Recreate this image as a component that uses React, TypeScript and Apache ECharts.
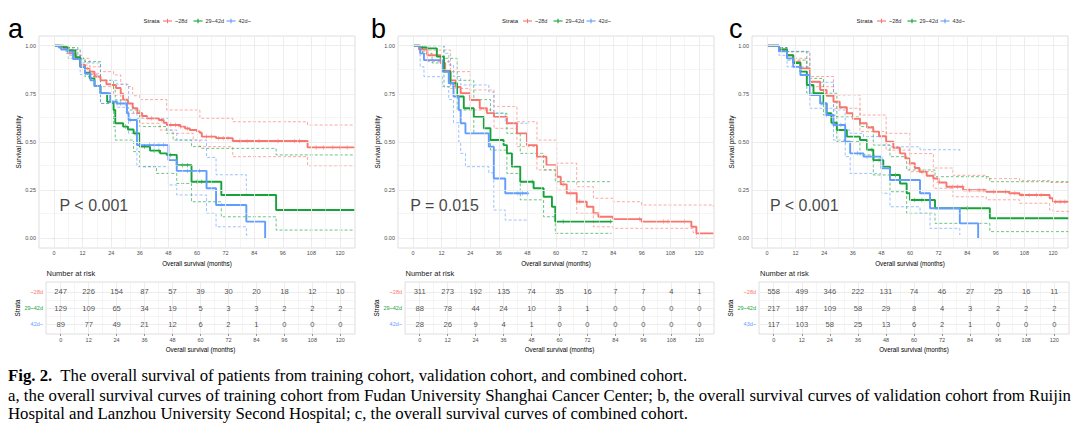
import React, { useEffect, useRef } from "react";
import * as echarts from "echarts";

const TIME_TICKS = [0, 12, 24, 36, 48, 60, 72, 84, 96, 108, 120];
const TIME_MINOR = [6, 18, 30, 42, 54, 66, 78, 90, 102, 114];
const SURV_TICKS = [0, 0.25, 0.5, 0.75, 1];
const SURV_MINOR = [0.125, 0.375, 0.625, 0.875];
const STRATA_AB = ["~28d", "29~42d", "42d~"];
const STRATA_C = ["~28d", "29~42d", "43d~"];
const COLORS = ["#F8766D", "#17A23A", "#619CFF"];
const P_LABELS = ["P < 0.001", "P = 0.015", "P < 0.001"];
const P_POS = [[2.1, 0.168], [-1.4, 0.168], [1, 0.168]];
const LETTERS = ["a", "b", "c"];

// ---------- panel a : training cohort ----------
const A_E28 = [[0,1],[3,0.99],[6,0.96],[9,0.93],[11,0.9],[13,0.88],[15,0.865],[17,0.84],[19.5,0.82],[22,0.8],[24,0.796],[26,0.78],[28,0.75],[29,0.72],[31,0.7],[33,0.675],[35,0.65],[37,0.635],[39,0.623],[44,0.614],[46,0.6],[47.3,0.588],[53,0.58],[55,0.57],[57,0.562],[60,0.555],[61.2,0.548],[62,0.528],[68,0.52],[75,0.505],[106.4,0.472],[126,0.472]];
const A_U28 = [[0,1],[5,0.99],[8,0.977],[11,0.934],[15,0.89],[19.5,0.865],[25,0.848],[28,0.8],[30.5,0.787],[33,0.74],[36,0.72],[47.3,0.666],[61.2,0.623],[75,0.605],[106.4,0.588],[126,0.588]];
const A_L28 = [[0,1],[5,0.98],[8,0.95],[12,0.9],[14,0.856],[19.5,0.787],[25,0.744],[28,0.7],[30.5,0.649],[36,0.597],[44.5,0.562],[50,0.545],[58.4,0.51],[61.2,0.476],[75,0.424],[106.4,0.377],[126,0.377]];
const A_E29 = [[0,1],[4,0.99],[6,0.975],[9,0.94],[11,0.89],[13,0.86],[15,0.83],[17,0.79],[19.5,0.753],[22.3,0.709],[25,0.666],[25.7,0.597],[29,0.58],[31,0.565],[33.4,0.545],[36,0.476],[40.3,0.455],[44.5,0.441],[47.3,0.433],[51.5,0.38],[57.7,0.294],[70.2,0.225],[93.2,0.147],[126,0.147]];
const A_U29 = [[0,1],[6,0.99],[10,0.93],[13,0.917],[19.5,0.82],[25,0.77],[25.7,0.718],[30.6,0.666],[36,0.58],[47.3,0.545],[50,0.51],[57.7,0.476],[62,0.467],[93.2,0.433],[126,0.433]];
const A_L29 = [[0,1],[5,0.96],[6,0.934],[13,0.839],[19.5,0.7],[25,0.58],[25.7,0.51],[33.4,0.45],[36,0.372],[43,0.337],[51.5,0.285],[57.7,0.19],[70.2,0.112],[93.2,0.043],[126,0.043]];
const A_E42 = [[0,1],[2,0.99],[3,0.98],[5.6,0.969],[8,0.93],[11,0.89],[13,0.855],[15.3,0.82],[17,0.79],[19.5,0.753],[23.6,0.709],[26.4,0.7],[30.6,0.649],[31.3,0.614],[34.8,0.484],[48,0.406],[51.5,0.35],[64,0.26],[68,0.173],[80.7,0.087],[88.6,0]];
const A_U42 = [[0,1],[3,1],[5,0.98],[11,0.91],[19.5,0.82],[26.4,0.8],[31.3,0.7],[33.4,0.649],[34.8,0.623],[48,0.562],[51.5,0.51],[64,0.42],[68,0.33],[80.7,0.22],[81.5,0.22]];
const A_L42 = [[0,1],[3,0.98],[6.5,0.95],[11,0.85],[19.5,0.7],[26.4,0.68],[31.3,0.545],[34.8,0.372],[48,0.277],[51.5,0.225],[64,0.13],[68,0.06],[80.7,0.017],[81.5,0.017]];
const A_C28 = [37,41,45,49,51,53,56,64,66,69,71,73,78,81,86,94,101,103,110,113,117,120,123];
const A_C29 = [30,34,38,42,44,49,54,56,60,62];
const A_C42 = [26,28,30,32,40,42,44,46,56,61];
const A_R28 = [247,226,154,87,57,39,30,20,18,12,10];
const A_R29 = [129,109,65,34,19,5,3,3,2,2,2];
const A_R42 = [89,77,49,21,12,6,2,1,0,0,0];

// ---------- panel b : validation cohort ----------
const B_E28 = [[0,1],[2.5,0.98],[6,0.95],[11.6,0.91],[13.5,0.87],[15.7,0.82],[18,0.785],[20,0.753],[24,0.718],[28,0.675],[31,0.65],[34,0.63],[39.4,0.597],[43.6,0.545],[47.8,0.484],[52,0.424],[56,0.38],[60.3,0.32],[62,0.28],[64.5,0.234],[68.7,0.19],[72.9,0.164],[75.7,0.13],[77.8,0.112],[84,0.1],[95.9,0.087],[116.8,0.06],[118.9,0.026],[126,0.026]];
const B_U28 = [[0,1],[4,0.99],[6,0.977],[15.7,0.865],[24,0.77],[34,0.684],[43.6,0.605],[52,0.51],[60.3,0.39],[68.7,0.268],[75.7,0.208],[84,0.19],[95.9,0.173],[126,0.165]];
const B_L28 = [[0,1],[3,0.97],[6,0.917],[15.7,0.778],[24,0.666],[34,0.571],[43.6,0.476],[52,0.355],[60.3,0.25],[68.7,0.13],[75.7,0.06],[84,0.052],[117.5,0.03],[118.9,0],[126,0]];
const B_E29 = [[0,1],[3,0.99],[6,0.986],[10,0.943],[13,0.865],[15.7,0.805],[18.5,0.736],[21.3,0.675],[25.5,0.63],[29.7,0.571],[32.5,0.51],[38,0.484],[39.4,0.441],[41.5,0.372],[45,0.294],[50.6,0.26],[54.8,0.216],[58.3,0.164],[59.7,0.087],[83.3,0.087]];
const B_U29 = [[0,1],[8,1],[13,0.934],[18.5,0.82],[25.5,0.72],[32.5,0.649],[39.4,0.545],[45,0.441],[54.8,0.355],[59.7,0.294],[83.3,0.294]];
const B_L29 = [[0,1],[4,0.96],[8,0.91],[13,0.787],[18.5,0.666],[25.5,0.545],[32.5,0.458],[39.4,0.337],[45,0.2],[54.8,0.112],[59.7,0.026],[83.3,0.026]];
const B_E42 = [[0,1],[3,0.96],[4.6,0.925],[12.3,0.865],[15,0.805],[17,0.736],[19.2,0.666],[20,0.597],[22,0.545],[31.8,0.476],[33.9,0.311],[38.7,0.234],[48.5,0.234]];
const B_U42 = [[0,1],[12.3,1],[13,0.96],[15,0.9],[17,0.84],[20,0.796],[31.8,0.76],[33.9,0.65],[38.7,0.597],[48.5,0.597]];
const B_L42 = [[0,1],[3,0.89],[4.6,0.839],[12.3,0.787],[15,0.72],[17,0.6],[19.2,0.5],[20,0.441],[22,0.372],[31.8,0.34],[33.9,0.147],[38.7,0.095],[48.5,0.095]];
const B_C28 = [63,66,70,95,105,107,114];
const B_C29 = [50,63,83];
const B_C42 = [44,46,48];
const B_R28 = [311,273,192,135,74,35,16,7,7,4,1];
const B_R29 = [88,78,44,24,10,3,1,0,0,0,0];
const B_R42 = [28,26,9,4,1,0,0,0,0,0,0];

// ---------- panel c : combined cohort ----------
const C_E28 = [[0,1],[3.5,1],[5,0.98],[8.4,0.95],[11,0.915],[14,0.882],[18,0.813],[22.3,0.77],[25,0.74],[27.9,0.709],[30.5,0.68],[33.5,0.649],[36,0.62],[39,0.597],[42,0.575],[44.6,0.554],[47,0.53],[50,0.502],[53,0.47],[55.8,0.441],[58,0.415],[60,0.39],[62,0.365],[64,0.346],[67,0.325],[69.8,0.311],[72,0.29],[75.3,0.268],[82.3,0.25],[92,0.242],[101.7,0.234],[106,0.225],[118.6,0.208],[120,0.19],[126.4,0.19]];
const C_U28 = [[0,1],[5,0.99],[8.4,0.967],[18,0.84],[27.9,0.744],[39,0.64],[50,0.545],[60,0.44],[69.8,0.365],[78,0.327],[92,0.31],[106,0.3],[118.6,0.29],[126.4,0.285]];
const C_L28 = [[0,1],[5,0.975],[8.4,0.934],[18,0.787],[27.9,0.675],[39,0.554],[50,0.458],[60,0.346],[69.8,0.26],[78,0.216],[92,0.2],[106,0.182],[118.6,0.147],[120,0.14],[126.4,0.13]];
const C_E29 = [[0,1],[3.5,1],[5,0.98],[8.4,0.95],[11,0.91],[14,0.865],[16.7,0.796],[19.5,0.753],[23.7,0.7],[25,0.649],[27,0.6],[29.3,0.562],[33.5,0.528],[39,0.51],[42,0.46],[44.6,0.406],[48.8,0.372],[51.6,0.329],[55.8,0.285],[58.6,0.234],[60,0.199],[70.5,0.156],[93.5,0.104],[126.4,0.104]];
const C_U29 = [[0,1],[5,0.99],[8.4,0.97],[16.7,0.83],[23.7,0.753],[29.3,0.63],[39,0.58],[44.6,0.484],[51.6,0.424],[58.6,0.355],[70.5,0.32],[93.5,0.294],[126.4,0.294]];
const C_L29 = [[0,1],[5,0.97],[8.4,0.925],[16.7,0.753],[23.7,0.64],[29.3,0.502],[39,0.433],[44.6,0.329],[51.6,0.242],[58.6,0.13],[70.5,0.078],[93.5,0.035],[126.4,0.035]];
const C_E43 = [[0,1],[3.5,1],[5,0.97],[8.4,0.934],[11,0.89],[14,0.848],[18,0.744],[22.3,0.7],[25,0.64],[27.9,0.588],[32.8,0.502],[34.9,0.441],[40.5,0.424],[48,0.363],[51.6,0.303],[64.2,0.234],[68.4,0.156],[80.9,0.078],[88.6,0]];
const C_U43 = [[0,1],[5,0.99],[8.4,0.97],[18,0.81],[27.9,0.666],[32.8,0.562],[34.9,0.545],[40.5,0.528],[48,0.484],[51.6,0.475],[64.2,0.46],[80.9,0.45]];
const C_L43 = [[0,1],[5,0.95],[8.4,0.89],[18,0.675],[27.9,0.51],[32.8,0.424],[34.9,0.337],[48,0.234],[51.6,0.164],[64.2,0.13],[68.4,0.052],[80.9,0.017]];
const C_C28 = [60,65,72,78,80,82,85,89,91,95,100,102,104,107,110,113,115,121,123,125];
const C_C29 = [44,47,54,62,65,84];
const C_C43 = [23,25,28,31,33,38,42,45];
const C_R28 = [558,499,346,222,131,74,46,27,25,16,11];
const C_R29 = [217,187,109,58,29,8,4,3,2,2,2];
const C_R43 = [117,103,58,25,13,6,2,1,0,0,0];

const CAPTION_BOLD = "Fig. 2.";
const CAPTION_1 = "The overall survival of patients from training cohort, validation cohort, and combined cohort.";
const CAPTION_2 = "a, the overall survival curves of training cohort from Fudan University Shanghai Cancer Center; b, the overall survival curves of validation cohort from Ruijin";
const CAPTION_3 = "Hospital and Lanzhou University Second Hospital; c, the overall survival curves of combined cohort.";

const PANELS = [
  { strata: STRATA_AB, curves: [[A_E28, A_U28, A_L28], [A_E29, A_U29, A_L29], [A_E42, A_U42, A_L42]], censors: [A_C28, A_C29, A_C42], risk: [A_R28, A_R29, A_R42] },
  { strata: STRATA_AB, curves: [[B_E28, B_U28, B_L28], [B_E29, B_U29, B_L29], [B_E42, B_U42, B_L42]], censors: [B_C28, B_C29, B_C42], risk: [B_R28, B_R29, B_R42] },
  { strata: STRATA_C, curves: [[C_E28, C_U28, C_L28], [C_E29, C_U29, C_L29], [C_E43, C_U43, C_L43]], censors: [C_C28, C_C29, C_C43], risk: [C_R28, C_R29, C_R43] },
];

// layout (pixels)
const LAYOUT = [
  { plotLeft: 39, tableLeft: 46, tableWidth: 309, letterX: 8, strataX: 151.5, legendLeft: 163, yNameGap: 18, tNameGap: 25, narX: 46.5 },
  { plotLeft: 398, tableLeft: 405, tableWidth: 309, letterX: 371, strataX: 510, legendLeft: 523, yNameGap: 17.5, tNameGap: 25.5, narX: 405.5 },
  { plotLeft: 752, tableLeft: 759, tableWidth: 310, letterX: 729, strataX: 864.5, legendLeft: 877, yNameGap: 18, tNameGap: 26, narX: 760 },
];
const LEGEND_OFFSETS = [0, 30.5, 63.5];
const LEGEND_Y = 21;
const PLOT_TOP = 36, PLOT_H = 212, PLOT_W = 316, TABLE_TOP = 282, TABLE_H = 52;
const FONT = "Liberation Sans, Arial, sans-serif";
const SERIF = "Liberation Serif, Times New Roman, serif";
const CAPTION_SIZE = 16.8;
const GRID_COLOR = "#EBEBEB";
const PLUS = "path://M4.3,0h1.4v10h-1.4z M0,4.3h10v1.4h-10z";

function stepAt(curve: number[][], t: number) {
  let v = curve[0][1];
  for (const p of curve) {
    if (p[0] <= t) v = p[1];
    else break;
  }
  return v;
}

function gridMarks(xMajor: number[], xMinor: number[], yMajor: number[], yMinor: number[]) {
  const d: any[] = [];
  xMinor.forEach((v) => d.push({ xAxis: v, lineStyle: { width: 0.5 } }));
  yMinor.forEach((v) => d.push({ yAxis: v, lineStyle: { width: 0.5 } }));
  xMajor.forEach((v) => d.push({ xAxis: v, lineStyle: { width: 0.9 } }));
  yMajor.forEach((v) => d.push({ yAxis: v, lineStyle: { width: 0.9 } }));
  return d;
}

function buildOption() {
  const grid: any[] = [];
  const xAxis: any[] = [];
  const yAxis: any[] = [];
  const series: any[] = [];
  const title: any[] = [];
  const graphic: any[] = [];

  PANELS.forEach((pn, i) => {
    const L = LAYOUT[i];
    const gp = 2 * i;
    const gt = 2 * i + 1;
    grid.push({ left: L.plotLeft, top: PLOT_TOP, width: PLOT_W, height: PLOT_H, show: true, borderColor: "#D6D6D6", borderWidth: 0.8, backgroundColor: "#fff" });
    grid.push({ left: L.tableLeft, top: TABLE_TOP, width: L.tableWidth, height: TABLE_H, show: true, borderColor: "#D6D6D6", borderWidth: 0.8, backgroundColor: "#fff" });

    const xCommon = {
      type: "value", min: -6.3, max: 126.3,
      splitLine: { show: false }, axisLine: { show: false },
      axisTick: { show: true, customValues: TIME_TICKS, length: 2, lineStyle: { color: "#333", width: 0.5 } },
      axisLabel: { customValues: TIME_TICKS, fontSize: 5.5, color: "#4D4D4D", margin: 2, fontFamily: FONT },
      name: "Overall survival (months)", nameLocation: "middle", nameGap: 12.5,
      nameTextStyle: { fontSize: 6.3, color: "#000", fontFamily: FONT },
    };
    xAxis.push({ ...xCommon, gridIndex: gp });
    xAxis.push({ ...xCommon, gridIndex: gt, axisLabel: { ...xCommon.axisLabel, margin: 2.5 } });

    yAxis.push({
      gridIndex: gp, type: "value", min: -0.05, max: 1.05,
      splitLine: { show: false }, axisLine: { show: false },
      axisTick: { show: true, customValues: SURV_TICKS, length: 2, lineStyle: { color: "#333", width: 0.5 } },
      axisLabel: { customValues: SURV_TICKS, formatter: (v: number) => Number(v).toFixed(2), fontSize: 5.5, color: "#4D4D4D", margin: 3, fontFamily: FONT },
      name: "Survival probability", nameLocation: "middle", nameGap: L.yNameGap, nameRotate: 90,
      nameTextStyle: { fontSize: 6.3, color: "#000", fontFamily: FONT },
    });
    const rich: any = {};
    [0, 1, 2].forEach((k) => { rich["s" + (3 - k)] = { color: COLORS[k], fontSize: 5.5, fontFamily: FONT }; });
    yAxis.push({
      gridIndex: gt, type: "value", min: 0.4, max: 3.6,
      splitLine: { show: false }, axisLine: { show: false },
      axisTick: { show: true, customValues: [1, 2, 3], length: 2, lineStyle: { color: "#333", width: 0.5 } },
      axisLabel: {
        customValues: [1, 2, 3], margin: 3,
        formatter: (v: number) => { const r = Math.round(Number(v)); return "{s" + r + "|" + pn.strata[3 - r] + "}"; },
        rich,
      },
      name: "Strata", nameLocation: "middle", nameGap: L.tNameGap, nameRotate: 90,
      nameTextStyle: { fontSize: 6.3, color: "#000", fontFamily: FONT },
    });

    // grid lines
    series.push({
      type: "line", name: "_gp" + i, xAxisIndex: gp, yAxisIndex: gp, data: [[0, 1]], symbol: "none", silent: true, z: 1,
      markLine: { silent: true, symbol: ["none", "none"], animation: false, label: { show: false }, lineStyle: { color: GRID_COLOR, type: "solid" }, emphasis: { disabled: true }, data: gridMarks(TIME_TICKS, TIME_MINOR, SURV_TICKS, SURV_MINOR) },
    });
    series.push({
      type: "line", name: "_gt" + i, xAxisIndex: gt, yAxisIndex: gt, data: [[0, 1]], symbol: "none", silent: true, z: 1,
      markLine: { silent: true, symbol: ["none", "none"], animation: false, label: { show: false }, lineStyle: { color: GRID_COLOR, type: "solid" }, emphasis: { disabled: true }, data: gridMarks(TIME_TICKS, TIME_MINOR, [1, 2, 3], [1.5, 2.5]) },
    });

    pn.curves.forEach((cv, k) => {
      const [est, up, lo] = cv;
      [up, lo].forEach((c, m) => {
        series.push({
          type: "line", name: "_ci" + i + k + m, xAxisIndex: gp, yAxisIndex: gp, step: "end", symbol: "none", silent: true, z: 3,
          data: c, lineStyle: { color: COLORS[k], width: 0.9, type: [3, 2], opacity: 0.7 },
        });
      });
      series.push({
        type: "line", name: pn.strata[k], xAxisIndex: gp, yAxisIndex: gp, step: "end", symbol: "none", silent: true, z: 4,
        data: est, lineStyle: { color: COLORS[k], width: 1.9 }, itemStyle: { color: COLORS[k] },
      });
      series.push({
        type: "scatter", name: "_cens" + i + k, xAxisIndex: gp, yAxisIndex: gp, symbol: PLUS, symbolSize: 4.5, silent: true, z: 5,
        itemStyle: { color: COLORS[k] },
        data: pn.censors[k].map((t) => [t, stepAt(est, t)]),
      });
      series.push({
        type: "scatter", name: "_risk" + i + k, xAxisIndex: gt, yAxisIndex: gt, symbolSize: 1, silent: true, z: 5,
        itemStyle: { color: "rgba(0,0,0,0)" },
        data: TIME_TICKS.map((t, j) => [t, 3 - k, pn.risk[k][j]]),
        label: { show: true, position: "inside", formatter: (p: any) => String(p.value[2]), fontSize: 7.6, color: "#222", fontFamily: FONT },
      });

      // legend item (drawn as graphic)
      const lx = L.legendLeft + LEGEND_OFFSETS[k];
      graphic.push({ type: "line", silent: true, shape: { x1: lx, y1: LEGEND_Y, x2: lx + 9, y2: LEGEND_Y }, style: { stroke: COLORS[k], lineWidth: 1.1 } });
      graphic.push({ type: "line", silent: true, shape: { x1: lx + 4.5, y1: LEGEND_Y - 2.2, x2: lx + 4.5, y2: LEGEND_Y + 2.2 }, style: { stroke: COLORS[k], lineWidth: 1.1 } });
      graphic.push({ type: "text", silent: true, x: lx + 12, y: LEGEND_Y, style: { text: pn.strata[k], fontSize: 5.5, fontFamily: FONT, fill: "#333", verticalAlign: "middle" } });
    });

    series.push({
      type: "scatter", name: "_p" + i, xAxisIndex: gp, yAxisIndex: gp, symbolSize: 1, silent: true, z: 6,
      itemStyle: { color: "rgba(0,0,0,0)" },
      data: [P_POS[i]],
      label: { show: true, position: "right", distance: 0, formatter: () => P_LABELS[i], fontSize: 16, color: "#111", fontFamily: FONT, verticalAlign: "middle" },
    });

    title.push({ text: "Number at risk", left: L.narX, top: 269.5, padding: 0, textStyle: { fontSize: 7.5, fontWeight: "normal", color: "#1a1a1a", fontFamily: FONT } });

    graphic.push({ type: "text", x: L.letterX, y: 28.5, silent: true, style: { text: LETTERS[i], fontSize: 27, fontFamily: FONT, fill: "#000", verticalAlign: "middle" } });
    graphic.push({ type: "text", x: L.strataX, y: LEGEND_Y, silent: true, style: { text: "Strata", fontSize: 6, fontFamily: FONT, fill: "#222", align: "center", verticalAlign: "middle" } });
  });

  graphic.push({ type: "text", x: 8, y: 375, silent: true, style: { text: "{b|" + CAPTION_BOLD + "}  " + CAPTION_1, rich: { b: { fontWeight: "bold", fontSize: CAPTION_SIZE, fontFamily: SERIF } }, fontSize: CAPTION_SIZE, fontFamily: SERIF, fill: "#000", verticalAlign: "middle" } });
  graphic.push({ type: "text", x: 8, y: 395, silent: true, style: { text: CAPTION_2, fontSize: CAPTION_SIZE, fontFamily: SERIF, fill: "#000", verticalAlign: "middle" } });
  graphic.push({ type: "text", x: 8, y: 413.5, silent: true, style: { text: CAPTION_3, fontSize: CAPTION_SIZE, fontFamily: SERIF, fill: "#000", verticalAlign: "middle" } });

  return {
    animation: false,
    backgroundColor: "#fff",
    textStyle: { fontFamily: FONT },
    title, grid, xAxis, yAxis, series, graphic,
  };
}

export default function App() {
  const ref = useRef<HTMLDivElement>(null);
  useEffect(() => {
    const chart = echarts.init(ref.current as HTMLDivElement, null, { renderer: "svg" });
    chart.setOption(buildOption() as any);
    return () => chart.dispose();
  }, []);
  return <div ref={ref} style={{ position: "absolute", left: 0, top: 0, width: 1080, height: 438, background: "#fff" }} />;
}
